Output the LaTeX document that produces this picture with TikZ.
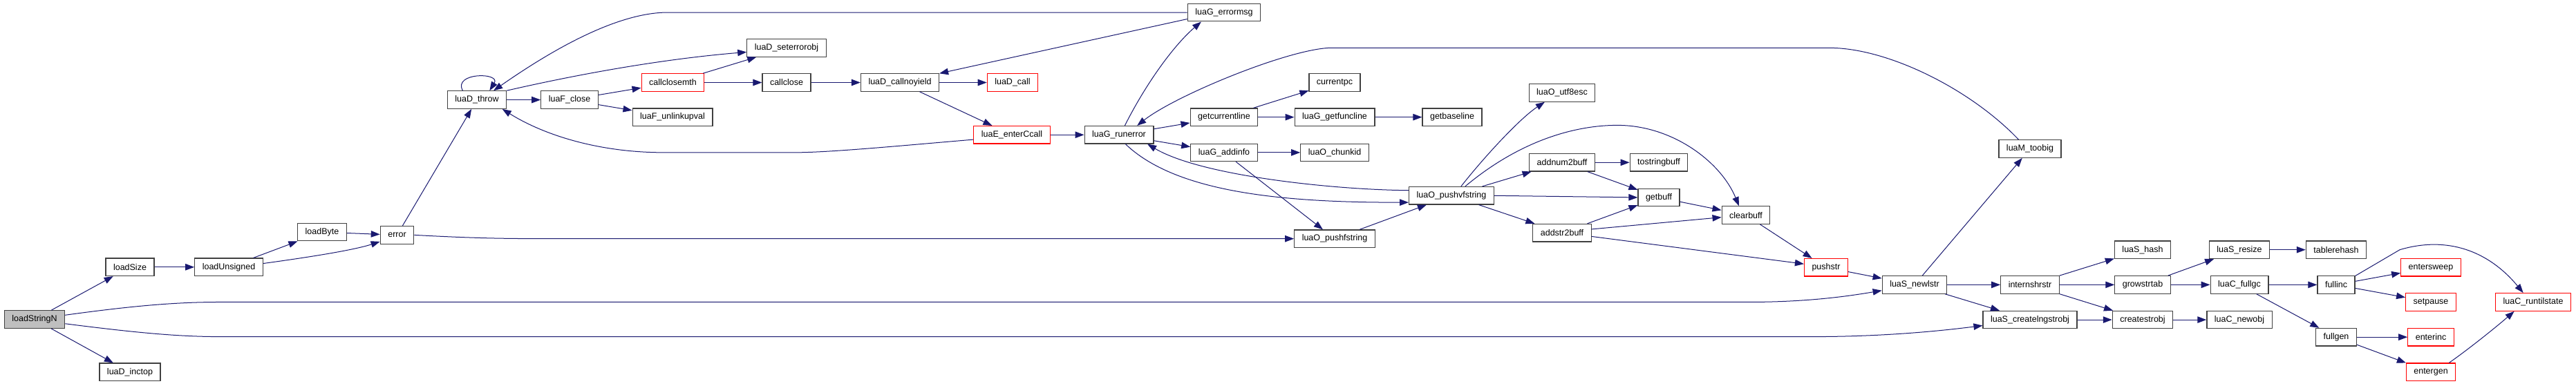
\documentclass[tikz,border=0pt]{standalone}
\usepackage{fontspec}
\setmainfont{Liberation Sans}
\usetikzlibrary{arrows.meta}
\definecolor{edgeblue}{HTML}{191970}
\definecolor{boxgray}{HTML}{BFBFBF}
\begin{document}
\begin{tikzpicture}[x=1pt,y=-1.067pt,
  fn/.style={rectangle,draw=black!75,line width=1.2pt,minimum height=25.5pt,inner xsep=11pt,inner ysep=0pt,font=\fontsize{12.5}{15}\selectfont},
  fnred/.style={fn,draw=red},
  fnmain/.style={fn,fill=boxgray},
  call/.style={edgeblue,line width=1pt,-{Triangle[length=13pt,width=9.5pt]}}]
\useasboundingbox (0,0) rectangle (3727,523.9);
\node[fnmain] (loadStringN) at (50,433.5) {loadStringN};
\node[fn] (loadSize) at (188,362.5) {loadSize};
\node[fn] (loadUnsigned) at (331,362.5) {loadUnsigned};
\node[fn] (loadByte) at (466,315) {loadByte};
\node[fn] (luaD_inctop) at (188,505) {luaD\_inctop};
\node[fn] (error) at (574.5,319) {error};
\node[fn] (luaD_throw) at (690,135.5) {luaD\_throw};
\node[fn] (luaF_close) at (824,135.5) {luaF\_close};
\node[fnred] (callclosemth) at (973.5,112) {callclosemth};
\node[fn] (luaF_unlinkupval) at (973,159) {luaF\_unlinkupval};
\node[fn] (luaD_seterrorobj) at (1138,65) {luaD\_seterrorobj};
\node[fn] (callclose) at (1138,112) {callclose};
\node[fn] (luaD_callnoyield) at (1302,112) {luaD\_callnoyield};
\node[fnred] (luaD_call) at (1465,112) {luaD\_call};
\node[fnred] (luaE_enterCcall) at (1464,183) {luaE\_enterCcall};
\node[fn] (luaG_runerror) at (1619,183) {luaG\_runerror};
\node[fn] (luaG_errormsg) at (1771,17) {luaG\_errormsg};
\node[fn] (getcurrentline) at (1771,159) {getcurrentline};
\node[fn] (luaG_addinfo) at (1771,207) {luaG\_addinfo};
\node[fn] (currentpc) at (1931,112) {currentpc};
\node[fn] (luaG_getfuncline) at (1931,159) {luaG\_getfuncline};
\node[fn] (getbaseline) at (2101,159) {getbaseline};
\node[fn] (luaO_chunkid) at (1931,207) {luaO\_chunkid};
\node[fn] (luaO_pushvfstring) at (2100,265.5) {luaO\_pushvfstring};
\node[fn] (luaO_pushfstring) at (1931,324) {luaO\_pushfstring};
\node[fn] (luaO_utf8esc) at (2260,126) {luaO\_utf8esc};
\node[fn] (addnum2buff) at (2260,220.5) {addnum2buff};
\node[fn] (addstr2buff) at (2260,316) {addstr2buff};
\node[fn] (tostringbuff) at (2400,220.5) {tostringbuff};
\node[fn] (getbuff) at (2400,268) {getbuff};
\node[fn] (clearbuff) at (2526,292) {clearbuff};
\node[fnred] (pushstr) at (2642,363) {pushstr};
\node[fn] (luaS_newlstr) at (2770,386.5) {luaS\_newlstr};
\node[fn] (luaM_toobig) at (2937,202) {luaM\_toobig};
\node[fn] (internshrstr) at (2937,386.5) {internshrstr};
\node[fn] (luaS_createlngstrobj) at (2937,434) {luaS\_createlngstrobj};
\node[fn] (luaS_hash) at (3100,339) {luaS\_hash};
\node[fn] (growstrtab) at (3100,386.5) {growstrtab};
\node[fn] (createstrobj) at (3100,434) {createstrobj};
\node[fn] (luaS_resize) at (3240,339) {luaS\_resize};
\node[fn] (luaC_fullgc) at (3240,386.5) {luaC\_fullgc};
\node[fn] (luaC_newobj) at (3240,434) {luaC\_newobj};
\node[fn] (tablerehash) at (3380,339) {tablerehash};
\node[fn] (fullinc) at (3380,386.5) {fullinc};
\node[fn] (fullgen) at (3380,457.5) {fullgen};
\node[fnred] (entersweep) at (3517,363) {entersweep};
\node[fnred] (setpause) at (3517,410) {setpause};
\node[fnred] (enterinc) at (3517,457.5) {enterinc};
\node[fnred] (entergen) at (3517,505) {entergen};
\node[fnred] (luaC_runtilstate) at (3665,410) {luaC\_runtilstate};
\draw[call] (loadStringN) -- (loadSize);
\draw[call] (loadStringN) -- (luaD_inctop);
\draw[call] (loadStringN.8) .. controls (200,414) and (260,410) .. (320,410) -- (2530,410) .. controls (2620,410) and (2680,401) .. (luaS_newlstr.190);
\draw[call] (loadStringN.352) .. controls (200,452) and (260,457) .. (320,457) -- (2620,457) .. controls (2720,457) and (2800,450) .. (luaS_createlngstrobj.187);
\draw[call] (loadSize) -- (loadUnsigned);
\draw[call] (loadUnsigned) -- (loadByte);
\draw[call] (loadUnsigned.6) .. controls (440,350) and (510,340) .. (error.201);
\draw[call] (loadByte) -- (error);
\draw[call] (error) -- (luaD_throw);
\draw[call] (error.east) .. controls (680,323) and (720,324) .. (800,324) -- (luaO_pushfstring.west);
\draw[call] (luaD_throw.147) .. controls (655,98) and (725,98) .. (luaD_throw.36);
\draw[call] (luaD_throw) -- (luaF_close);
\draw[call] (luaD_throw.north east) .. controls (840,100) and (960,80) .. (luaD_seterrorobj.186);
\draw[call] (luaF_close) -- (callclosemth);
\draw[call] (luaF_close) -- (luaF_unlinkupval);
\draw[call] (callclosemth) -- (luaD_seterrorobj);
\draw[call] (callclosemth) -- (callclose);
\draw[call] (callclose) -- (luaD_callnoyield);
\draw[call] (luaD_callnoyield) -- (luaD_call);
\draw[call] (luaD_callnoyield) -- (luaE_enterCcall);
\draw[call] (luaE_enterCcall) -- (luaG_runerror);
\draw[call] (luaE_enterCcall.187) .. controls (1300,198) and (1200,207) .. (1150,207) -- (960,207) .. controls (870,207) and (790,185) .. (luaD_throw.340);
\draw[call] (luaG_errormsg.west) -- (960,17) .. controls (880,20) and (780,80) .. (luaD_throw.29);
\draw[call] (luaG_errormsg.190) -- (luaD_callnoyield.13);
\draw[call] (luaG_runerror.58) .. controls (1660,110) and (1700,60) .. (luaG_errormsg.202);
\draw[call] (luaG_runerror) -- (getcurrentline);
\draw[call] (luaG_runerror) -- (luaG_addinfo);
\draw[call] (luaG_runerror.-55) .. controls (1700,260) and (1850,275) .. (luaO_pushvfstring.189);
\draw[call] (luaO_pushvfstring.173) .. controls (1940,258) and (1740,240) .. (luaG_runerror.342);
\draw[call] (luaM_toobig.141) .. controls (2850,120) and (2730,65) .. (2647,65) -- (1923,65) .. controls (1860,68) and (1700,130) .. (luaG_runerror.27);
\draw[call] (getcurrentline) -- (currentpc);
\draw[call] (getcurrentline) -- (luaG_getfuncline);
\draw[call] (luaG_getfuncline) -- (getbaseline);
\draw[call] (luaG_addinfo) -- (luaO_chunkid);
\draw[call] (luaG_addinfo) -- (luaO_pushfstring);
\draw[call] (luaO_pushfstring) -- (luaO_pushvfstring);
\draw[call] (luaO_pushvfstring.44) .. controls (2150,210) and (2200,160) .. (luaO_utf8esc.208);
\draw[call] (luaO_pushvfstring) -- (addnum2buff);
\draw[call] (luaO_pushvfstring) -- (addstr2buff);
\draw[call] (luaO_pushvfstring.east) -- (getbuff.west);
\draw[call] (luaO_pushvfstring.34) .. controls (2200,190) and (2280,170) .. (2340,170) .. controls (2420,170) and (2490,220) .. (clearbuff.127);
\draw[call] (addnum2buff) -- (tostringbuff);
\draw[call] (addnum2buff) -- (getbuff);
\draw[call] (addstr2buff) -- (getbuff);
\draw[call] (addstr2buff.7) -- (clearbuff.185);
\draw[call] (addstr2buff.353) -- (pushstr.171);
\draw[call] (getbuff) -- (clearbuff);
\draw[call] (clearbuff) -- (pushstr);
\draw[call] (pushstr) -- (luaS_newlstr);
\draw[call] (luaS_newlstr) -- (luaM_toobig);
\draw[call] (luaS_newlstr) -- (internshrstr);
\draw[call] (luaS_newlstr) -- (luaS_createlngstrobj);
\draw[call] (internshrstr) -- (luaS_hash);
\draw[call] (internshrstr) -- (growstrtab);
\draw[call] (internshrstr) -- (createstrobj);
\draw[call] (luaS_createlngstrobj) -- (createstrobj);
\draw[call] (growstrtab) -- (luaS_resize);
\draw[call] (growstrtab) -- (luaC_fullgc);
\draw[call] (createstrobj) -- (luaC_newobj);
\draw[call] (luaS_resize) -- (tablerehash);
\draw[call] (luaC_fullgc) -- (fullinc);
\draw[call] (luaC_fullgc) -- (fullgen);
\draw[call] (fullinc) -- (entersweep);
\draw[call] (fullinc) -- (setpause);
\draw[call] (fullinc.25) -- (3472,339) .. controls (3540,320) and (3600,340) .. (luaC_runtilstate.137);
\draw[call] (fullgen) -- (enterinc);
\draw[call] (fullgen) -- (entergen);
\draw[call] (entergen.27) .. controls (3570,475) and (3610,445) .. (luaC_runtilstate.206);
\end{tikzpicture}
\end{document}
